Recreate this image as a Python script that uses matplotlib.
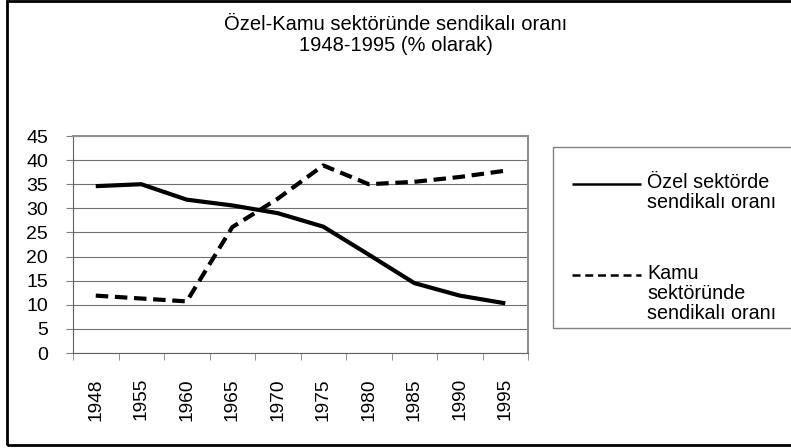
import numpy as np
import matplotlib.pyplot as plt
from matplotlib.patches import Rectangle
from matplotlib.lines import Line2D

plt.rcParams['font.family'] = ['Liberation Sans', 'DejaVu Sans']

years = ['1948', '1955', '1960', '1965', '1970', '1975', '1980', '1985', '1990', '1995']
ozel = [34.6, 35.0, 31.8, 30.6, 29.0, 26.2, 20.4, 14.5, 11.9, 10.3]
kamu = [11.9, 11.3, 10.7, 26.1, 32.0, 38.9, 35.0, 35.5, 36.5, 37.8]

title = 'Özel-Kamu sektöründe sendikalı oranı\n1948-1995 (% olarak)'
labels = ['Özel sektörde\nsendikalı oranı', 'Kamu\nsektöründe\nsendikalı oranı']

W, H = 791, 448
fig = plt.figure(figsize=(W / 100, H / 100), dpi=100)
ax = fig.add_axes([73 / W, 1 - 353 / H, (528 - 73) / W, (353 - 136) / H])

x = np.arange(len(years))
ax.plot(x, ozel, color='black', lw=3.0, solid_capstyle='butt')
ax.plot(x, kamu, color='black', lw=3.0, dashes=(3.0, 1.6), dash_capstyle='butt')

ax.set_xlim(-0.5, len(years) - 0.5)
ax.set_ylim(0, 45)
ax.set_yticks(np.arange(0, 46, 5))
ax.yaxis.grid(True, color='#707070', lw=0.8)
ax.set_axisbelow(True)

ax.set_xticks(x)
ax.set_xticklabels(years, rotation=90, fontsize=13.8)
ax.set_xticks(np.arange(-0.5, len(years), 1), minor=True)
ax.tick_params(axis='x', which='major', length=0, pad=18)
ax.tick_params(axis='x', which='minor', length=5, color='#808080', direction='out')
ax.tick_params(axis='y', length=5, color='#808080', labelsize=14, pad=13)

for side in ['left', 'bottom']:
    ax.spines[side].set_color('#606060')
for side in ['right', 'top']:
    ax.spines[side].set_color('#909090')
    ax.spines[side].set_linewidth(1.5)

fig.text(396 / W, 1 - 35 / H, title, ha='center', va='center', fontsize=14.5, linespacing=1.08)

# legend, drawn by hand so the handle sits on the first text line
fig.patches.append(Rectangle((553 / W, 1 - 328 / H), 260 / W, (328 - 147) / H,
                             transform=fig.transFigure, fill=False, ec='#808080', lw=1))
leg_y = [184, 275]
leg_style = [dict(), dict(dashes=(3.2, 1.9))]
for y, lab, st in zip(leg_y, labels, leg_style):
    fig.add_artist(Line2D([572 / W, 641 / W], [1 - y / H, 1 - y / H], transform=fig.transFigure,
                          color='black', lw=1.8, solid_capstyle='butt', dash_capstyle='butt', **st))
    fig.text(647 / W, 1 - (y - 11) / H, lab, ha='left', va='top', fontsize=14.2, linespacing=1.08)

# outer border
fig.patches.append(Rectangle((7 / W, 3 / H), 1.0, (H - 4) / H,
                             transform=fig.transFigure, fill=False, ec='black', lw=2))

fig.savefig('out.png', dpi=100)
